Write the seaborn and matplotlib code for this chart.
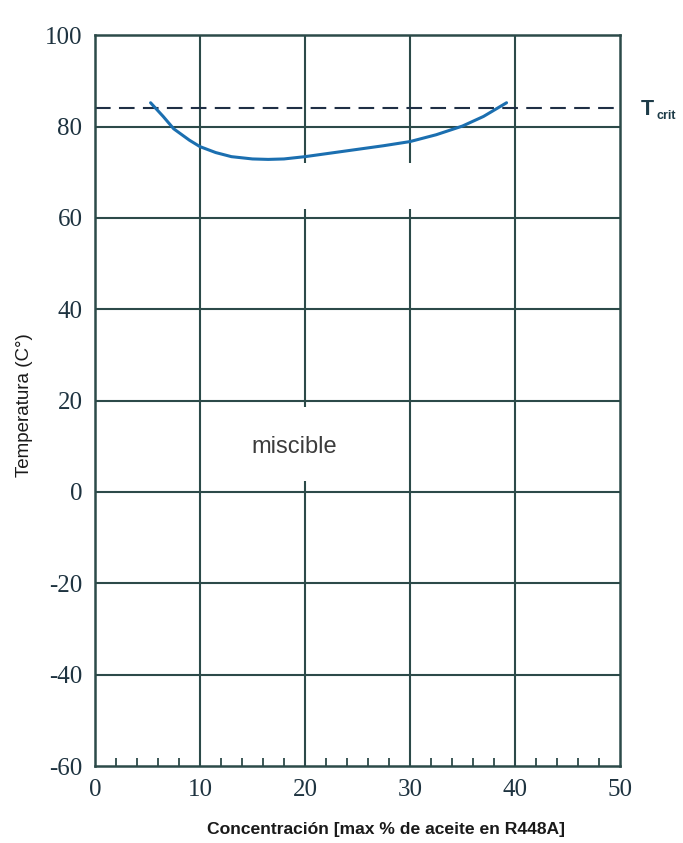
import matplotlib
import numpy as np
import pandas as pd
import seaborn as sns

matplotlib.use("Agg")
import matplotlib.pyplot as plt  # noqa: E402

# miscibility curve
concentration = [5.3, 6.5, 7.5, 9.0, 10.0, 11.5, 13.0, 15.0, 16.5, 18.0, 20.0,
                 22.5, 25.0, 27.5, 30.0, 32.5, 35.0, 37.0, 39.2]
temperature = [85.2, 82.2, 79.5, 77.0, 75.6, 74.3, 73.4, 72.9, 72.8, 72.9, 73.4,
               74.2, 75.0, 75.8, 76.7, 78.2, 80.1, 82.2, 85.2]
t_crit = 84

x_ticks = [0, 10, 20, 30, 40, 50]
y_ticks = [-60, -40, -20, 0, 20, 40, 60, 80, 100]

# vertical grid pieces (the reference has a few breaks in them)
grid_x = [10, 20, 20, 20, 30, 30, 40]
grid_lo = [-60, -60, 18.5, 72, -60, 72, -60]
grid_hi = [100, 2.5, 62, 100, 62, 100, 100]

GRID = "#2c4a49"
TICK_TXT = "#1e3340"

sns.set_style("white")
plt.rcParams["font.family"] = ["Liberation Sans", "DejaVu Sans"]
plt.rcParams["axes.unicode_minus"] = False

curve = pd.DataFrame({"x": concentration, "y": temperature})

fig = plt.figure(figsize=(6.83, 8.43), dpi=100)
ax = fig.add_axes([0.139, 0.0913, 0.7687, 0.867])

ax.vlines(grid_x, grid_lo, grid_hi, color=GRID, lw=1.5, zorder=1)
ax.hlines(y_ticks[1:-1], 0, 50, color=GRID, lw=1.5, zorder=1)
ax.axhline(t_crit, color="#1f2f45", lw=1.5, dashes=(7.5, 4), zorder=2)

sns.lineplot(data=curve, x="x", y="y", sort=False, estimator=None,
             color="#1b6fb0", lw=2.2, ax=ax, zorder=3)

ax.set_xlim(0, 50)
ax.set_ylim(-60, 100)
ax.set_xticks(x_ticks)
ax.set_yticks(y_ticks)
minor = np.arange(2, 50, 2)
ax.set_xticks(minor[minor % 10 != 0], minor=True)
ax.tick_params(axis="both", which="major", length=0, labelsize=18,
               labelcolor=TICK_TXT, pad=9)
ax.tick_params(axis="x", which="minor", direction="in", length=6,
               width=1.3, color=GRID, bottom=True)
for lab in ax.get_xticklabels() + ax.get_yticklabels():
    lab.set_fontfamily("Liberation Serif")

for sp in ax.spines.values():
    sp.set_color(GRID)
    sp.set_linewidth(1.8)

ax.set_xlabel("Concentración [max % de aceite en R448A]", fontsize=12.6,
              fontweight="bold", color="#1a1a1a")
ax.xaxis.set_label_coords(0.554, -0.076)
ax.set_ylabel("Temperatura (C°)", fontsize=13.5, color="#1a1a1a")
ax.yaxis.set_label_coords(-0.118, 0.494)

ax.text(19.0, 9.8, "miscible", fontsize=17, color="#3c3c3c",
        ha="center", va="center")

ax.text(1.04, t_crit - 0.3, "T", transform=ax.get_yaxis_transform(),
        fontsize=15.5, fontweight="bold", color="#1d3b48", va="center", ha="left")
ax.text(1.07, t_crit - 1.6, "crit", transform=ax.get_yaxis_transform(),
        fontsize=9, fontweight="bold", color="#1d3b48", va="center", ha="left")

fig.savefig("out.png", dpi=100, facecolor="white")
